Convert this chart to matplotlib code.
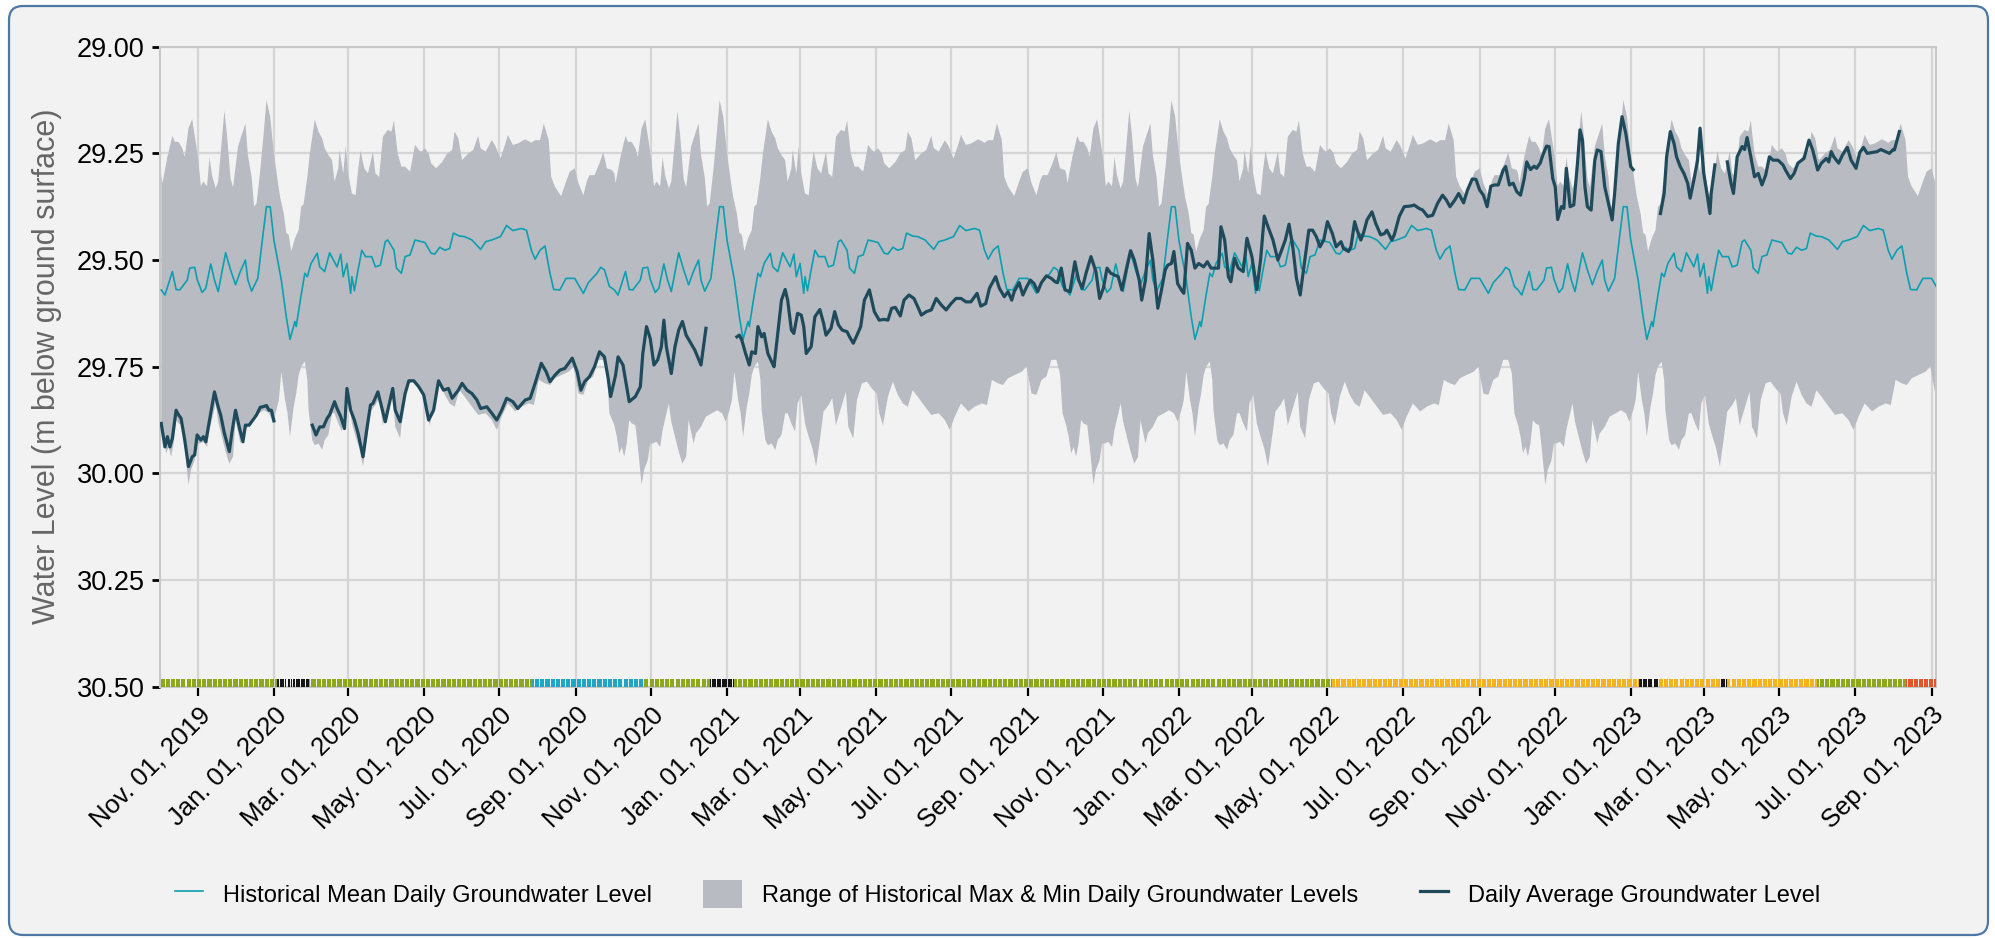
import numpy as np
import pandas as pd
import matplotlib
matplotlib.use('Agg')
import matplotlib.pyplot as plt
import matplotlib.dates as mdates
from matplotlib.patches import FancyBboxPatch, Patch, Rectangle
from matplotlib.transforms import IdentityTransform, ScaledTranslation
from matplotlib.legend_handler import HandlerPatch

plt.rcParams['font.family'] = ['Liberation Sans', 'DejaVu Sans']

# ---------------- data ----------------
SERIES_START = '2019-10-01'          # day 0 of the daily-average series
WATER_YEAR_STARTS = ['2019-10-01', '2020-10-01', '2021-10-01', '2022-10-01']
X_START, X_END = '2019-10-01', '2023-09-05'

# Historical statistics by day of water year (day 0 = Oct 1)
MEAN_DAYS = [1, 4, 10, 13, 16, 22, 24, 28, 30, 34, 37, 41, 44, 47, 53, 57, 61, 65, 69, 71, 74, 79, 83, 86,
             89, 92, 98, 102, 105, 109, 110, 114, 117, 119, 122, 127, 129, 133, 137, 143, 146, 148, 151,
             154, 155, 157, 160, 163, 166, 171, 174, 178, 182, 184, 189, 191, 195, 198, 202, 206, 214,
             219, 222, 226, 230, 234, 237, 242, 246, 252, 259, 263, 268, 275, 280, 285, 292, 296, 300,
             303, 307, 311, 315, 318, 323, 328, 335, 342, 346, 353, 356, 359, 363]
MEAN_LEVEL = [29.570, 29.582, 29.527, 29.569, 29.570, 29.547, 29.519, 29.517, 29.545, 29.576, 29.566,
              29.509, 29.547, 29.574, 29.483, 29.523, 29.558, 29.526, 29.500, 29.547, 29.573, 29.543,
              29.445, 29.375, 29.375, 29.453, 29.547, 29.633, 29.686, 29.644, 29.656, 29.582, 29.531,
              29.539, 29.508, 29.484, 29.516, 29.527, 29.483, 29.516, 29.486, 29.539, 29.508, 29.578,
              29.539, 29.572, 29.523, 29.477, 29.492, 29.492, 29.516, 29.512, 29.457, 29.453, 29.477,
              29.519, 29.531, 29.492, 29.488, 29.453, 29.459, 29.484, 29.486, 29.470, 29.477, 29.473,
              29.437, 29.444, 29.445, 29.453, 29.475, 29.457, 29.453, 29.445, 29.419, 29.431, 29.426,
              29.430, 29.477, 29.498, 29.477, 29.467, 29.531, 29.569, 29.570, 29.543, 29.543, 29.578,
              29.553, 29.531, 29.517, 29.523, 29.562]

HIGH_DAYS = [1, 2, 6, 10, 12, 15, 18, 20, 23, 26, 29, 31, 33, 35, 38, 40, 42, 45, 47, 49, 52, 54, 57, 59,
             63, 66, 69, 71, 74, 76, 78, 81, 84, 86, 89, 92, 95, 97, 100, 102, 104, 106, 109, 112, 114,
             116, 119, 121, 123, 125, 128, 131, 133, 136, 139, 141, 144, 145, 148, 150, 152, 155, 158,
             160, 162, 165, 168, 172, 174, 177, 180, 184, 187, 189, 192, 195, 198, 202, 206, 209, 211,
             214, 217, 219, 223, 228, 232, 236, 238, 241, 244, 249, 253, 257, 259, 263, 268, 271, 275,
             279, 281, 285, 289, 295, 300, 303, 307, 310, 314, 316, 319, 324, 328, 331, 335, 338, 342,
             345, 347, 351, 355, 358, 361, 365]
HIGH_LEVEL = [29.297, 29.320, 29.258, 29.209, 29.223, 29.223, 29.238, 29.258, 29.191, 29.170, 29.227,
              29.266, 29.327, 29.316, 29.327, 29.259, 29.301, 29.332, 29.316, 29.250, 29.150, 29.203,
              29.309, 29.330, 29.234, 29.207, 29.180, 29.254, 29.305, 29.375, 29.367, 29.289, 29.195,
              29.125, 29.164, 29.250, 29.313, 29.352, 29.391, 29.436, 29.441, 29.480, 29.449, 29.430,
              29.375, 29.369, 29.305, 29.250, 29.211, 29.170, 29.199, 29.215, 29.238, 29.254, 29.266,
              29.316, 29.285, 29.242, 29.297, 29.233, 29.297, 29.344, 29.348, 29.289, 29.244, 29.285,
              29.297, 29.246, 29.297, 29.305, 29.211, 29.195, 29.199, 29.173, 29.250, 29.281, 29.281,
              29.293, 29.230, 29.242, 29.246, 29.238, 29.250, 29.273, 29.285, 29.270, 29.250, 29.242,
              29.199, 29.215, 29.266, 29.250, 29.242, 29.209, 29.238, 29.246, 29.219, 29.233, 29.262,
              29.227, 29.207, 29.230, 29.227, 29.217, 29.225, 29.219, 29.219, 29.180, 29.219, 29.305,
              29.328, 29.350, 29.316, 29.293, 29.285, 29.320, 29.348, 29.313, 29.301, 29.301, 29.273,
              29.248, 29.285, 29.289]

LOW_DAYS = [1, 3, 5, 7, 9, 11, 13, 15, 18, 20, 23, 25, 28, 30, 32, 35, 38, 40, 45, 47, 50, 53, 56, 59, 61,
            65, 67, 71, 75, 80, 84, 88, 91, 94, 96, 98, 101, 103, 105, 108, 110, 112, 114, 117, 119, 120,
            123, 125, 128, 131, 133, 136, 139, 141, 144, 147, 149, 152, 155, 158, 161, 164, 167, 170,
            174, 177, 180, 184, 188, 190, 194, 197, 201, 205, 209, 213, 215, 218, 222, 226, 230, 234,
            238, 242, 246, 250, 257, 263, 268, 272, 276, 281, 287, 292, 298, 302, 306, 311, 315, 319,
            324, 330, 334, 338, 342, 346, 350, 354, 358, 361, 363]
LOW_LEVEL = [29.887, 29.914, 29.953, 29.938, 29.961, 29.930, 29.875, 29.883, 29.887, 29.938, 30.027,
             29.992, 29.969, 29.930, 29.930, 29.926, 29.938, 29.898, 29.836, 29.879, 29.914, 29.949,
             29.977, 29.961, 29.875, 29.930, 29.906, 29.891, 29.867, 29.859, 29.852, 29.859, 29.879,
             29.852, 29.828, 29.762, 29.828, 29.859, 29.914, 29.844, 29.813, 29.770, 29.750, 29.738,
             29.781, 29.852, 29.922, 29.934, 29.930, 29.945, 29.922, 29.910, 29.859, 29.859, 29.883,
             29.902, 29.836, 29.816, 29.883, 29.914, 29.941, 29.984, 29.922, 29.855, 29.840, 29.824,
             29.887, 29.848, 29.809, 29.891, 29.918, 29.828, 29.789, 29.785, 29.801, 29.813, 29.859,
             29.887, 29.820, 29.785, 29.816, 29.836, 29.844, 29.805, 29.820, 29.836, 29.863, 29.859,
             29.875, 29.898, 29.867, 29.836, 29.855, 29.844, 29.836, 29.840, 29.781, 29.789, 29.793,
             29.777, 29.770, 29.762, 29.750, 29.813, 29.816, 29.781, 29.773, 29.734, 29.734, 29.766,
             29.859]

# Daily average groundwater level: days since SERIES_START (NaN = no data)
NA = float('nan')
DAILY_DAYS = [1, 4, 6, 8, 10, 13, 15, 17, 20, 23, 26, 28, 30, 33, 35, 37, 40, 44, 47, 49, 52, 56, 58, 61,
              64, 67, 69, 72, 75, 78, 81, 83, 86, 88, 90, 92, 93,
              123, 126, 129, 132, 135, 137, 141, 143, 146, 149, 151, 154, 157, 160, 164, 167, 170, 172,
              176, 179, 182, 184, 188, 190, 194, 198, 201, 205, 209, 213, 217, 221, 225, 229, 233, 236,
              241, 244, 248, 252, 256, 259, 264, 268, 272, 276, 280, 285, 289, 295, 299, 303, 308, 312,
              315, 319, 323, 327, 333, 337, 340, 343, 347, 351, 355, 359, 362, 364, 368, 370, 374, 379,
              384, 388, 390, 393, 396, 399, 402, 405, 407, 409, 413, 416, 419, 422, 425, 428, 432, 437,
              441, 442,
              466, 468, 470, 473, 476, 478, 481, 483, 486, 488, 491, 494, 496, 499, 502, 505, 507, 510,
              512, 515, 518, 520, 522, 526, 529, 533, 536, 538, 542, 545, 548, 551, 555, 557, 560, 563,
              566, 569, 573, 577, 581, 585, 588, 591, 594, 598, 601, 605, 609, 612, 615, 619, 623, 627,
              631, 635, 639, 643, 647, 651, 655, 660, 663, 667, 670, 675, 678, 682, 685, 688, 690, 694,
              697, 700, 703, 706, 709, 712, 716, 720, 723, 725, 728, 731, 735, 739, 742, 745, 748, 752,
              756, 759, 762, 765, 768, 771, 774, 777, 781, 784, 787, 791, 793, 796, 799, 802, 806, 809,
              812, 814, 817, 819, 822, 825, 827, 830, 833, 836, 839, 843, 846, 849, 855, 857, 860, 863,
              865, 868, 871, 875, 878, 882, 886, 889, 892, 895, 899, 903, 906, 909, 912, 915, 918, 921,
              924, 928, 931, 934, 937, 940, 943, 947, 950, 954, 956, 960, 962, 965, 967, 970, 972, 975,
              979, 982, 986, 989, 991, 995, 997, 1001, 1005, 1011, 1013, 1017, 1020, 1024, 1028, 1032,
              1036, 1039, 1042, 1046, 1049, 1053, 1056, 1060, 1063, 1066, 1069, 1072, 1075, 1078, 1081,
              1085, 1087, 1090, 1093, 1096, 1099, 1102, 1104, 1107, 1110, 1112, 1115, 1117, 1120, 1122,
              1125, 1127, 1129, 1132, 1134, 1136, 1139, 1142, 1145, 1147, 1149, 1151, 1153, 1156, 1159,
              1161, 1164, 1167, 1170, 1173, 1175, 1178, 1181, 1184, 1188, 1190, 1191,
              1212, 1215, 1217, 1220, 1223, 1225, 1228, 1231, 1234, 1236, 1239, 1242, 1244, 1247, 1250,
              1252, 1253, 1256, 1257,
              1266, 1269, 1271, 1274, 1278, 1280, 1282, 1285, 1288, 1291, 1294, 1297, 1300, 1303, 1307,
              1311, 1313, 1317, 1320, 1323, 1328, 1332, 1335, 1339, 1342, 1346, 1348, 1350, 1352, 1356,
              1359, 1363, 1366, 1370, 1373, 1376, 1379, 1383, 1387, 1390, 1394, 1397, 1400, 1401, 1405]
DAILY_LEVEL = [29.883, 29.938, 29.914, 29.938, 29.918, 29.852, 29.863, 29.871, 29.922, 29.984, 29.961,
               29.957, 29.910, 29.922, 29.914, 29.926, 29.875, 29.809, 29.844, 29.863, 29.906, 29.949,
               29.906, 29.852, 29.891, 29.926, 29.887, 29.887, 29.875, 29.863, 29.845, 29.844, 29.841,
               29.852, 29.852, 29.877, NA,
               29.887, 29.910, 29.891, 29.891, 29.871, 29.863, 29.832, 29.848, 29.867, 29.895, 29.801,
               29.852, 29.875, 29.906, 29.961, 29.898, 29.840, 29.836, 29.809, 29.844, 29.879, 29.852,
               29.801, 29.852, 29.879, 29.813, 29.783, 29.783, 29.797, 29.816, 29.875, 29.852, 29.783,
               29.805, 29.801, 29.824, 29.805, 29.789, 29.805, 29.813, 29.828, 29.848, 29.844, 29.859,
               29.875, 29.852, 29.824, 29.832, 29.848, 29.828, 29.824, 29.789, 29.742, 29.762, 29.785,
               29.770, 29.758, 29.754, 29.730, 29.762, 29.805, 29.785, 29.773, 29.750, 29.715, 29.727,
               29.777, 29.820, 29.770, 29.727, 29.746, 29.832, 29.820, 29.797, 29.719, 29.656, 29.684,
               29.746, 29.734, 29.703, 29.641, 29.703, 29.766, 29.703, 29.664, 29.644, 29.676, 29.691,
               29.711, 29.746, 29.660, NA,
               29.680, 29.676, 29.688, 29.719, 29.746, 29.715, 29.719, 29.656, 29.680, 29.672, 29.719,
               29.738, 29.750, 29.672, 29.594, 29.569, 29.594, 29.664, 29.672, 29.625, 29.629, 29.656,
               29.719, 29.703, 29.633, 29.616, 29.648, 29.676, 29.660, 29.621, 29.652, 29.664, 29.668,
               29.680, 29.695, 29.676, 29.656, 29.594, 29.570, 29.621, 29.641, 29.639, 29.641, 29.613,
               29.611, 29.631, 29.594, 29.582, 29.590, 29.609, 29.629, 29.621, 29.617, 29.590, 29.605,
               29.617, 29.602, 29.590, 29.590, 29.598, 29.598, 29.578, 29.608, 29.602, 29.566, 29.539,
               29.566, 29.586, 29.574, 29.594, 29.574, 29.553, 29.582, 29.563, 29.547, 29.555, 29.574,
               29.553, 29.537, 29.543, 29.551, 29.553, 29.519, 29.570, 29.574, 29.504, 29.547, 29.566,
               29.531, 29.492, 29.527, 29.590, 29.566, 29.519, 29.531, 29.535, 29.539, 29.570, 29.516,
               29.478, 29.500, 29.547, 29.594, 29.547, 29.438, 29.500, 29.613, 29.570, 29.523, 29.512,
               29.508, 29.480, 29.555, 29.570, 29.578, 29.461, 29.477, 29.519, 29.508, 29.516, 29.504,
               29.519, 29.519, 29.422, 29.453, 29.539, 29.551, 29.496, 29.519, 29.527, 29.449, 29.492,
               29.569, 29.500, 29.397, 29.422, 29.453, 29.500, 29.477, 29.453, 29.416, 29.469, 29.543,
               29.582, 29.516, 29.430, 29.430, 29.445, 29.469, 29.453, 29.410, 29.438, 29.469, 29.457,
               29.473, 29.480, 29.469, 29.410, 29.430, 29.453, 29.438, 29.406, 29.387, 29.414, 29.441,
               29.438, 29.430, 29.453, 29.441, 29.398, 29.375, 29.373, 29.371, 29.379, 29.383, 29.398,
               29.395, 29.367, 29.348, 29.359, 29.375, 29.359, 29.344, 29.366, 29.337, 29.310, 29.311,
               29.336, 29.348, 29.375, 29.327, 29.324, 29.324, 29.289, 29.281, 29.324, 29.320, 29.340,
               29.348, 29.309, 29.270, 29.288, 29.280, 29.285, 29.272, 29.254, 29.233, 29.234, 29.309,
               29.328, 29.405, 29.375, 29.379, 29.285, 29.375, 29.371, 29.273, 29.195, 29.219, 29.328,
               29.375, 29.383, 29.266, 29.242, 29.246, 29.328, 29.367, 29.406, 29.344, 29.227, 29.164,
               29.203, 29.281, 29.288, NA,
               29.391, 29.344, 29.258, 29.199, 29.227, 29.258, 29.281, 29.297, 29.320, 29.355, 29.313,
               29.266, 29.191, 29.297, 29.352, 29.391, 29.344, 29.277, NA,
               29.270, 29.320, 29.344, 29.258, 29.234, 29.241, 29.213, 29.258, 29.305, 29.297, 29.324,
               29.301, 29.258, 29.266, 29.266, 29.277, 29.289, 29.309, 29.297, 29.273, 29.262, 29.219,
               29.242, 29.289, 29.273, 29.262, 29.270, 29.246, 29.258, 29.273, 29.254, 29.236, 29.266,
               29.285, 29.248, 29.236, 29.250, 29.248, 29.246, 29.241, 29.246, 29.250, 29.241, 29.242,
               29.199]

# Status strip segments (days since SERIES_START, inclusive)
STATUS_FIRST_DAY = [0, 95, 104, 108, 121, 301, 391, 445, 464, 947, 1195, 1211, 1261, 1266, 1339, 1411]
STATUS_LAST_DAY = [94, 101, 106, 120, 300, 390, 444, 463, 946, 1194, 1210, 1260, 1265, 1338, 1410, 1434]
STATUS_CLASS = ['normal', 'nodata', 'nodata', 'nodata', 'normal', 'above', 'normal', 'nodata', 'normal',
                'below', 'nodata', 'below', 'nodata', 'below', 'normal', 'low']
STATUS_COLORS = {'normal': '#8ca71c', 'above': '#1fa6c6', 'below': '#f6b21c',
                 'low': '#e5552c', 'nodata': '#151515'}

Y_TICKS = [29.00, 29.25, 29.50, 29.75, 30.00, 30.25, 30.50]
TICK_DATES = pd.date_range('2019-11-01', '2023-09-01', freq='2MS')
TICK_LABELS = [d.strftime('%b. %d, %Y') for d in TICK_DATES]

LBL_MEAN = 'Historical Mean Daily Groundwater Level'
LBL_RANGE = 'Range of Historical Max & Min Daily Groundwater Levels'
LBL_DAILY = 'Daily Average Groundwater Level'

BAND_COLOR = '#b8bcc2'
MEAN_COLOR = '#0b9fb1'
DAILY_COLOR = '#1f4a5b'

# ---------------- figure ----------------
W, H = 1995, 938
fig = plt.figure(figsize=(W / 100, H / 100), dpi=100)
fig.patch.set_facecolor('white')
panel = FancyBboxPatch((9, 3), 1979, 929, boxstyle='round,pad=0,rounding_size=14',
                       transform=IdentityTransform(), facecolor='#f2f2f2',
                       edgecolor='#4d78a6', linewidth=1.6, zorder=0)
fig.add_artist(panel)

ax = fig.add_axes([160 / W, (H - 686.7) / H, (1936.5 - 160) / W, (686.7 - 46.7) / H])
ax.set_facecolor('#f2f2f2')


def wy_dates(days):
    out = []
    for s in WATER_YEAR_STARTS:
        out.append(mdates.date2num(pd.Timestamp(s) + pd.to_timedelta(np.asarray(days), unit='D')))
    return np.concatenate(out)


def wy_vals(vals):
    return np.tile(np.asarray(vals, dtype=float), len(WATER_YEAR_STARTS))


# band
hx, hy = wy_dates(HIGH_DAYS), wy_vals(HIGH_LEVEL)
lx, ly = wy_dates(LOW_DAYS), wy_vals(LOW_LEVEL)
ax.fill(np.concatenate([hx, lx[::-1]]), np.concatenate([hy, ly[::-1]]),
        color=BAND_COLOR, lw=0, zorder=2)

# mean
mean_line, = ax.plot(wy_dates(MEAN_DAYS), wy_vals(MEAN_LEVEL), color=MEAN_COLOR, lw=1.2, zorder=3)

# daily average
dd = mdates.date2num(pd.Timestamp(SERIES_START) + pd.to_timedelta(np.asarray(DAILY_DAYS), unit='D'))
daily_line, = ax.plot(dd, DAILY_LEVEL, color=DAILY_COLOR, lw=2.3, zorder=4, solid_joinstyle='round')

# status strip
for a, b, c in zip(STATUS_FIRST_DAY, STATUS_LAST_DAY, STATUS_CLASS):
    days = np.arange(a, b + 1)
    x = mdates.date2num(pd.Timestamp(SERIES_START) + pd.to_timedelta(days, unit='D'))
    ax.bar(x, 0.018, bottom=30.482, width=0.8, color=STATUS_COLORS[c], lw=0, zorder=5)

# axes styling
ax.set_xlim(mdates.date2num(pd.Timestamp(X_START)), mdates.date2num(pd.Timestamp(X_END)))
ax.set_ylim(30.5, 29.0)
ax.set_yticks(Y_TICKS)
ax.set_yticklabels([f'{v:.2f}' for v in Y_TICKS])
ax.set_xticks(mdates.date2num(TICK_DATES))
ax.set_xticklabels(TICK_LABELS)
shift = ScaledTranslation(6 / 100, 0, fig.dpi_scale_trans)
for lbl in ax.get_xticklabels():
    lbl.set_rotation(45)
    lbl.set_ha('right')
    lbl.set_va('top')
    lbl.set_rotation_mode('anchor')
    lbl.set_transform(lbl.get_transform() + shift)

ax.set_axisbelow(True)
ax.grid(True, color='#d5d5d5', lw=1.6, zorder=0)
for sp in ax.spines.values():
    sp.set_color('#c8c8c8')
    sp.set_linewidth(1.5)
ax.tick_params(axis='y', length=6, width=2, color='black', labelsize=19.5, pad=5, labelcolor='black')
ax.tick_params(axis='x', length=6.5, width=1.6, color='black', labelsize=18.5, pad=5, labelcolor='black')

ax.set_ylabel('Water Level (m below ground surface)', fontsize=22, color='#666666')
ax.yaxis.set_label_coords(-0.0552, 0.5)


def wide_patch(legend, orig_handle, xdescent, ydescent, width, height, fontsize):
    extra = 0.36 * width
    return Rectangle((-xdescent - extra, -ydescent), width + extra, height)


band_handle = Patch(facecolor=BAND_COLOR, edgecolor='none')
fig.legend([mean_line, band_handle, daily_line], [LBL_MEAN, LBL_RANGE, LBL_DAILY], loc='center',
           bbox_to_anchor=(0.5, 1 - 894 / H), ncol=3, frameon=False, fontsize=17,
           handlelength=1.2, handleheight=1.45, handletextpad=0.85, columnspacing=2.6,
           handler_map={band_handle: HandlerPatch(patch_func=wide_patch)})

fig.savefig('out.png', dpi=100, facecolor='white')
